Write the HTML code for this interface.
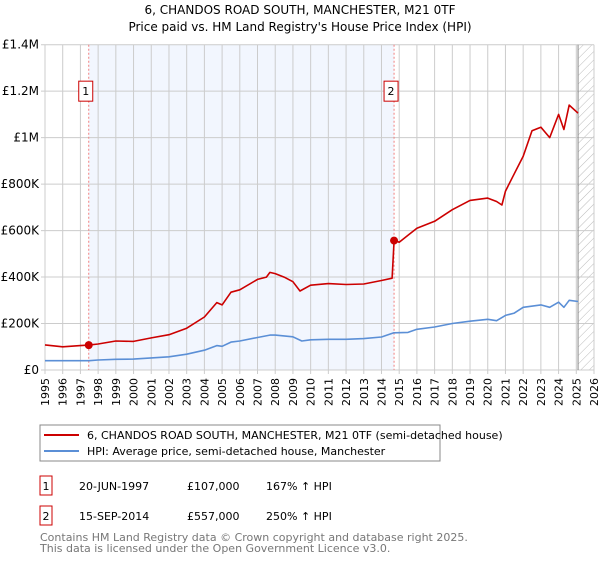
<!DOCTYPE html>
<html><head><meta charset="utf-8"><style>
body{margin:0;background:#fff;font-family:"Liberation Sans","DejaVu Sans",sans-serif;}
svg text{font-family:"DejaVu Sans","Liberation Sans",sans-serif;}
</style></head><body>
<svg id="chart" width="600" height="560" viewBox="0 0 600 560" xmlns="http://www.w3.org/2000/svg">
<defs><pattern id="hatch" width="6" height="6" patternUnits="userSpaceOnUse" patternTransform="rotate(45)"><line x1="0" y1="0" x2="0" y2="6" stroke="#bbb" stroke-width="1"/></pattern></defs>
<text x="300" y="14" text-anchor="middle" font-size="12" fill="#000">6, CHANDOS ROAD SOUTH, MANCHESTER, M21 0TF</text>
<text x="300" y="31" text-anchor="middle" font-size="12" fill="#000">Price paid vs. HM Land Registry's House Price Index (HPI)</text>
<g id="plot"></g>
<rect x="40" y="425" width="400" height="36" fill="#fff" stroke="#888"/>
<line x1="44" y1="435" x2="79" y2="435" stroke="#cc0000" stroke-width="2"/>
<text x="87" y="439" font-size="11">6, CHANDOS ROAD SOUTH, MANCHESTER, M21 0TF (semi-detached house)</text>
<line x1="44" y1="451" x2="79" y2="451" stroke="#5b8fd6" stroke-width="2"/>
<text x="87" y="455" font-size="11">HPI: Average price, semi-detached house, Manchester</text>
<g>
<rect x="40" y="476" width="12" height="19" fill="#fff" stroke="#cc0000"/>
<text x="46" y="490" font-size="11" text-anchor="middle">1</text>
<text x="79" y="490" font-size="11">20-JUN-1997</text>
<text x="187" y="490" font-size="11">£107,000</text>
<text x="266" y="490" font-size="11">167% ↑ HPI</text></g>
<g>
<rect x="40" y="506" width="12" height="19" fill="#fff" stroke="#cc0000"/>
<text x="46" y="520" font-size="11" text-anchor="middle">2</text>
<text x="79" y="520" font-size="11">15-SEP-2014</text>
<text x="187" y="520" font-size="11">£557,000</text>
<text x="266" y="520" font-size="11">250% ↑ HPI</text></g>
<text x="40" y="541" font-size="11" fill="#777">Contains HM Land Registry data © Crown copyright and database right 2025.</text>
<text x="40" y="552" font-size="11" fill="#777">This data is licensed under the Open Government Licence v3.0.</text>
</svg>
<script>
const yearTicks=[1995,1996,1997,1998,1999,2000,2001,2002,2003,2004,2005,2006,2007,2008,2009,2010,2011,2012,2013,2014,2015,2016,2017,2018,2019,2020,2021,2022,2023,2024,2025,2026];
const valueTicks=[0,200000,400000,600000,800000,1000000,1200000,1400000];
const valueTickLabels=["£0","£200K","£400K","£600K","£800K","£1M","£1.2M","£1.4M"];
const hpiYears=[1995,1997.5,1998,1999,2000,2001,2002,2003,2004,2004.7,2005,2005.5,2006,2007,2007.7,2008,2009,2009.5,2010,2011,2012,2013,2014,2014.7,2015.5,2016,2017,2018,2019,2020,2020.5,2021,2021.5,2022,2023,2023.5,2024,2024.3,2024.6,2025.1];
const hpiValues=[40000,40000,43000,46000,47000,52000,57000,68000,85000,105000,102000,120000,125000,140000,150000,150000,143000,125000,130000,132000,132000,135000,142000,160000,162000,175000,185000,200000,210000,218000,212000,235000,245000,270000,280000,270000,292000,270000,300000,295000];
const priceYears=[1995,1996,1997,1997.47,1998,1999,2000,2001,2002,2003,2004,2004.7,2005,2005.5,2006,2007,2007.5,2007.7,2008,2008.5,2009,2009.4,2010,2011,2012,2013,2014,2014.6,2014.71,2015,2015.5,2016,2017,2018,2019,2020,2020.5,2020.8,2021,2021.5,2022,2022.5,2023,2023.5,2024,2024.3,2024.6,2025.1];
const priceValues=[108000,100000,105000,107000,112000,125000,123000,138000,152000,180000,228000,290000,280000,335000,345000,390000,400000,420000,415000,400000,380000,340000,365000,372000,368000,370000,385000,395000,557000,550000,580000,610000,640000,690000,730000,740000,725000,710000,770000,845000,920000,1030000,1045000,1000000,1100000,1035000,1140000,1105000];
const saleYears=[1997.47,2014.71];
const saleValues=[107000,557000];
const saleLabels=["1","2"];
const shadeRange=[1997.47,2014.71];
const forecastStart=2025.1;

const X0=45,X1=594,Y0=370,Y1=44.7,xmin=1995,xmax=2026,ymax=1400000;
const xs=v=>X0+(v-xmin)/(xmax-xmin)*(X1-X0);
const ys=v=>Y0-v/ymax*(Y0-Y1);
const NS="http://www.w3.org/2000/svg";
const g=document.getElementById('plot');
function mk(tag,attrs){const e=document.createElementNS(NS,tag);for(const k in attrs)e.setAttribute(k,attrs[k]);g.appendChild(e);return e;}

let e=mk('rect',{x:xs(shadeRange[0]),y:Y1,width:xs(shadeRange[1])-xs(shadeRange[0]),height:Y0-Y1,fill:'#f2f6fe'});


e=mk('rect',{x:xs(forecastStart),y:Y1,width:X1-xs(forecastStart),height:Y0-Y1,fill:'url(#hatch)'});


yearTicks.forEach(y=>{
  const l=mk('line',{x1:xs(y),x2:xs(y),y1:Y1,y2:Y0+4,stroke:'#ccc','stroke-width':1});
  
  
  const t=mk('text',{x:0,y:0,'font-size':11,'text-anchor':'end',transform:`translate(${xs(y)+4},${Y0+8}) rotate(-90)`});
  t.textContent=y;
  
  
});
valueTicks.forEach((v,i)=>{
  const l=mk('line',{x1:X0-4,x2:X1,y1:ys(v),y2:ys(v),stroke:'#ccc','stroke-width':1});
  
  
  const t=mk('text',{x:X0-6,y:ys(v)+4,'font-size':12,'text-anchor':'end'});
  t.textContent=valueTickLabels[i];
  
  
});
e=mk('line',{x1:xs(forecastStart),x2:xs(forecastStart),y1:Y1,y2:Y0,stroke:'#888','stroke-width':1});


saleYears.forEach((y,i)=>{
  const l=mk('line',{x1:xs(y),x2:xs(y),y1:Y1,y2:Y0,stroke:'#f08080','stroke-dasharray':'2,2','stroke-width':1});
  
  
});
function line(xsArr,vals,color){
  return mk('path',{d:xsArr.map((x,i)=>(i?'L':'M')+xs(x).toFixed(1)+','+ys(vals[i]).toFixed(1)).join(''),fill:'none',stroke:color,'stroke-width':1.6,'stroke-linejoin':'round'});
}
e=line(hpiYears,hpiValues,'#5b8fd6');


e=line(priceYears,priceValues,'#cc0000');


saleYears.forEach((y,i)=>{
  const c=mk('circle',{cx:xs(y),cy:ys(saleValues[i]),r:4,fill:'#cc0000'});
  
  
  const bx=xs(y)-3;
  const r=mk('rect',{x:bx-7,y:ys(1200000)-10,width:14,height:20,fill:'#fff',stroke:'#cc0000'});
  
  
  const t=mk('text',{x:bx,y:ys(1200000)+4,'font-size':11,'text-anchor':'middle'});
  t.textContent=saleLabels[i];
  
  
});
</script>
</body></html>
